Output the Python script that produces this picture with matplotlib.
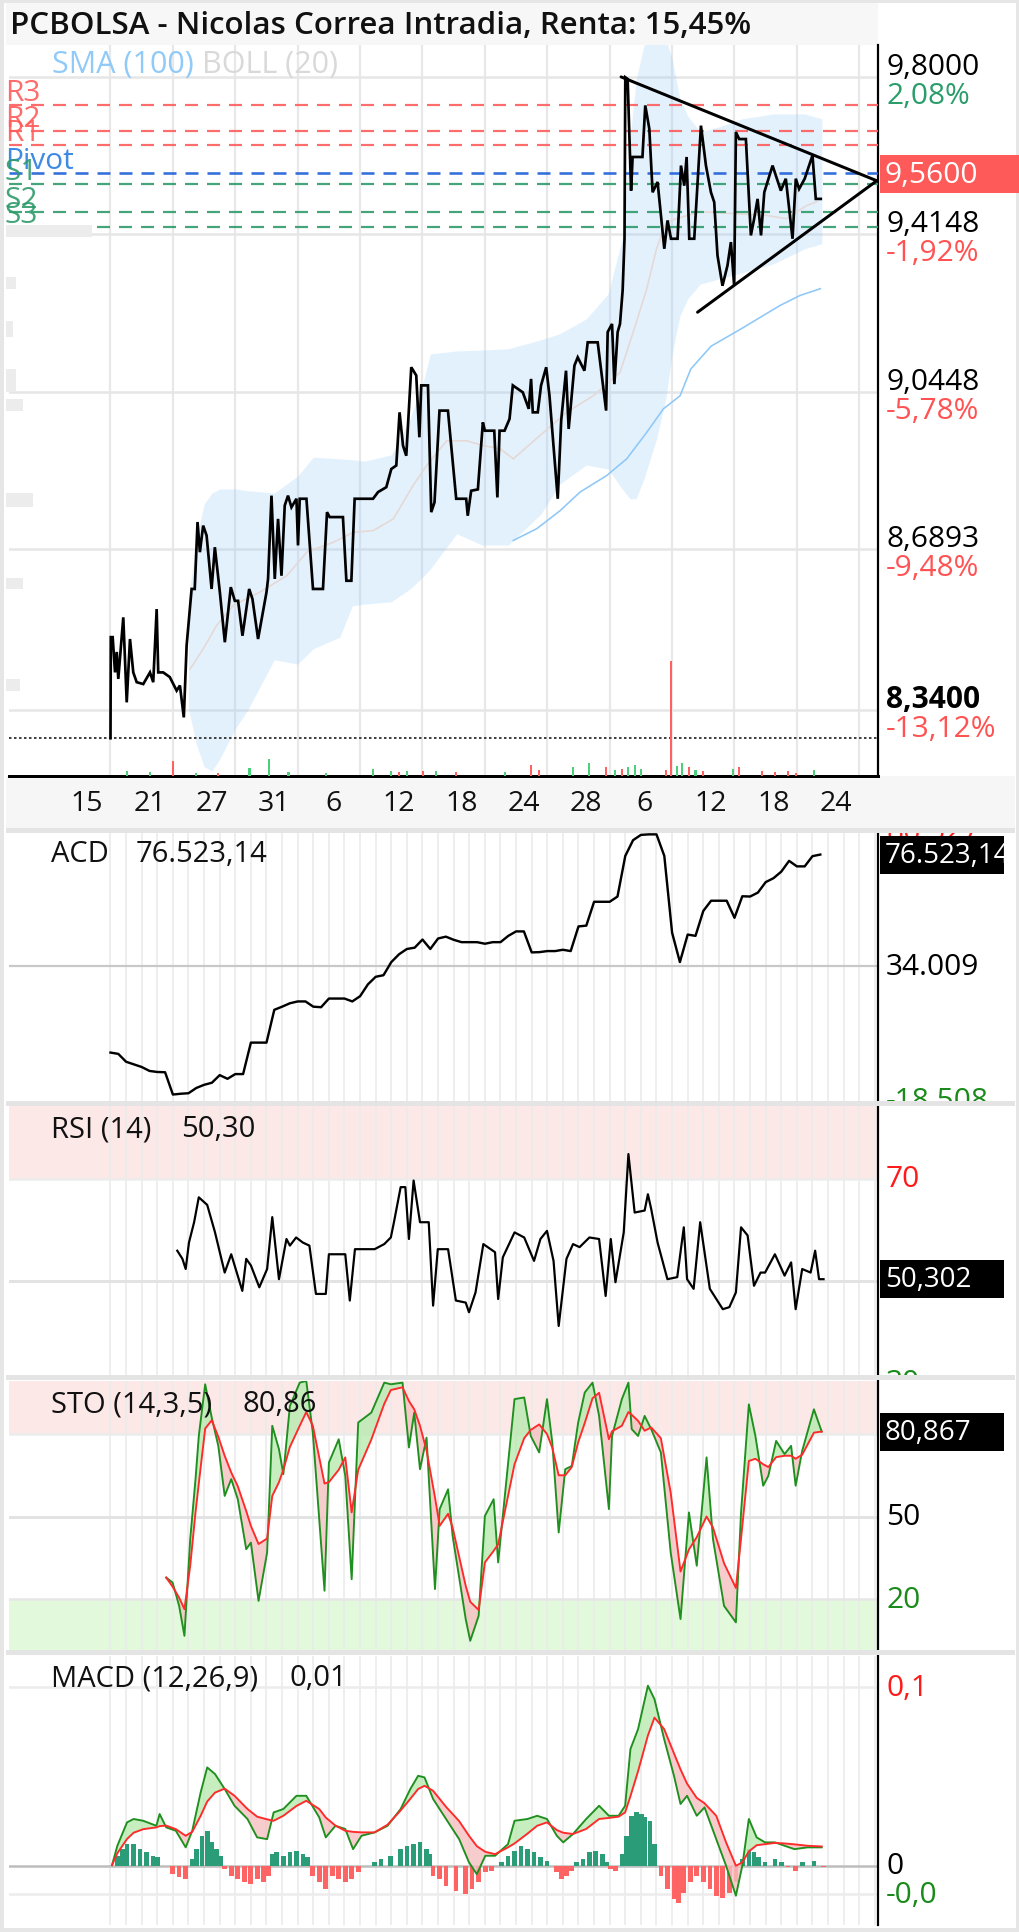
import numpy as np
import matplotlib
matplotlib.use("Agg")
import matplotlib.pyplot as plt
from matplotlib.patches import Rectangle
from matplotlib.transforms import Affine2D, Bbox, TransformedBbox
from matplotlib.ticker import NullLocator

plt.rcParams['font.family'] = ['Open Sans', 'DejaVu Sans']
plt.rcParams['lines.scale_dashes'] = False
plt.rcParams['axes.unicode_minus'] = False

# ------------------------------------------------------------------ data
title = "PCBOLSA - Nicolas Correa Intradia, Renta: 15,45%"
date_labels = ["15", "21", "27", "31", "6", "12", "18", "24", "28", "6", "12", "18", "24"]
date_tick_days = [-1.5, 2.5, 6.5, 10.5, 14.3, 18.5, 22.5, 26.5, 30.5, 34.2, 38.5, 42.5, 46.5]

price_ticks = [9.80, 9.4148, 9.0448, 8.6893, 8.34]
price_tick_labels = ["9,8000", "9,4148", "9,0448", "8,6893", "8,3400"]
pct_labels = ["2,08%", "-1,92%", "-5,78%", "-9,48%", "-13,12%"]
last_price = 9.56
last_price_label = "9,5600"
base_price = 8.28

pivot_names = ["R3", "R2", "R1", "Pivot", "S1", "S2", "S3"]
pivot_levels = [9.729, 9.667, 9.632, 9.563, 9.535, 9.468, 9.433]

price_days = [0.0, 0.02, 0.14, 0.29, 0.40, 0.50, 0.82, 1.04, 1.25, 1.46,
              1.68, 2.10, 2.53, 2.74, 2.96, 3.06, 3.38, 3.80, 4.24, 4.45,
              4.70, 4.88, 5.20, 5.40, 5.58, 5.73, 5.94, 6.16, 6.48, 6.69,
              7.01, 7.33, 7.71, 7.97, 8.18, 8.46, 8.89, 9.10, 9.46, 10.0,
              10.1, 10.32, 10.53, 10.74, 10.96, 11.17, 11.38, 11.6, 11.92, 12.02,
              12.13, 12.56, 12.98, 13.62, 13.88, 14.05, 14.9, 15.12, 15.44, 15.65,
              16.83, 17.15, 17.68, 18.0, 18.32, 18.53, 18.75, 18.96, 19.28, 19.6,
              19.8, 19.92, 20.35, 20.56, 20.77, 21.09, 21.63, 22.16, 22.8, 22.9,
              23.12, 23.55, 23.87, 24.0, 24.6, 24.8, 24.94, 25.26, 25.58, 25.79,
              26.43, 26.81, 26.96, 27.07, 27.39, 27.6, 27.93, 28.14, 28.67, 28.89,
              29.2, 29.37, 29.74, 29.95, 30.38, 30.59, 31.23, 31.77, 31.87, 32.15,
              32.3, 32.51, 32.66, 32.83, 32.95, 33.0, 33.15, 33.37, 33.47, 34.1,
              34.28, 34.54, 34.75, 35.07, 35.5, 35.71, 35.93, 36.35, 36.57, 36.78,
              36.93, 37.1, 37.42, 37.85, 38.17, 38.49, 38.7, 38.91, 39.23, 39.55,
              39.77, 39.98, 40.09, 40.3, 40.73, 41.05, 41.26, 41.48, 41.7, 41.91,
              42.44, 42.97, 43.29, 43.72, 43.93, 44.14, 44.5, 45.0, 45.21, 45.53]
price = [8.28, 8.496, 8.496, 8.420, 8.464, 8.406, 8.539, 8.356, 8.492, 8.420,
         8.399, 8.395, 8.420, 8.399, 8.557, 8.420, 8.420, 8.410, 8.381, 8.392,
         8.324, 8.478, 8.601, 8.601, 8.749, 8.682, 8.741, 8.719, 8.601, 8.693,
         8.594, 8.485, 8.605, 8.575, 8.575, 8.499, 8.601, 8.579, 8.492, 8.594,
         8.623, 8.808, 8.623, 8.756, 8.630, 8.786, 8.808, 8.782, 8.801, 8.697,
         8.801, 8.801, 8.601, 8.601, 8.771, 8.760, 8.760, 8.619, 8.619, 8.801,
         8.801, 8.816, 8.827, 8.868, 8.876, 8.997, 8.921, 8.898, 9.101, 9.082,
         8.940, 9.059, 9.059, 8.771, 8.793, 9.001, 9.001, 8.801, 8.801, 8.763,
         8.819, 8.822, 8.974, 8.955, 8.955, 8.804, 8.955, 8.955, 8.982, 9.059,
         9.043, 9.005, 9.074, 8.997, 8.997, 9.059, 9.101, 9.035, 8.801, 8.978,
         9.093, 8.959, 9.105, 9.124, 9.093, 9.159, 9.159, 9.001, 9.183, 9.202,
         9.062, 9.183, 9.202, 9.281, 9.404, 9.799, 9.795, 9.520, 9.602, 9.602,
         9.729, 9.671, 9.516, 9.541, 9.380, 9.448, 9.404, 9.404, 9.581, 9.532,
         9.602, 9.404, 9.404, 9.679, 9.581, 9.516, 9.492, 9.364, 9.292, 9.340,
         9.396, 9.292, 9.663, 9.646, 9.646, 9.412, 9.452, 9.500, 9.412, 9.516,
         9.581, 9.520, 9.549, 9.404, 9.549, 9.524, 9.549, 9.606, 9.500, 9.500]

band_days = [5.0, 5.5, 6.0, 6.5, 7.0, 8.0, 8.8, 10.5, 12.0, 13.0,
             14.7, 15.5, 16.3, 18.0, 19.2, 20.1, 20.5, 22.2, 23.8, 25.5,
             27.6, 28.8, 30.5, 31.9, 32.8, 33.3, 33.7, 34.2, 35.0, 35.6,
             36.0, 36.5, 37.0, 37.8, 39.0, 40.5, 42.5, 44.5, 45.6]
band_upper = [8.579, 8.711, 8.789, 8.814, 8.823, 8.823, 8.819, 8.814, 8.852, 8.895,
              8.891, 8.889, 8.886, 8.900, 8.982, 9.074, 9.132, 9.139, 9.141, 9.144,
              9.165, 9.179, 9.214, 9.273, 9.404, 9.646, 9.795, 9.880, 9.895, 9.895,
              9.845, 9.745, 9.703, 9.664, 9.676, 9.696, 9.708, 9.708, 9.696]
band_lower = [8.342, 8.268, 8.220, 8.211, 8.236, 8.300, 8.340, 8.447, 8.438, 8.471,
              8.496, 8.564, 8.568, 8.573, 8.601, 8.630, 8.645, 8.723, 8.698, 8.698,
              8.767, 8.834, 8.877, 8.868, 8.823, 8.801, 8.801, 8.846, 8.936, 9.028,
              9.132, 9.221, 9.261, 9.296, 9.308, 9.323, 9.344, 9.380, 9.392]

boll_mid_days = [5.1, 5.95, 6.8, 7.87, 9.58, 11.3, 12.58, 14.28, 15.56, 16.85,
                 18.13, 19.4, 20.27, 21.55, 22.83, 23.9, 24.97, 25.82, 27.53, 29.24,
                 30.95, 32.66, 33.51, 34.37, 35.0, 35.65, 37.79, 42.06, 43.35, 44.63, 45.27]
boll_mid = [8.427, 8.471, 8.521, 8.565, 8.594, 8.630, 8.682, 8.704, 8.726, 8.730,
            8.756, 8.831, 8.876, 8.932, 8.932, 8.921, 8.914, 8.891, 8.944, 8.997,
            9.035, 9.089, 9.183, 9.284, 9.380, 9.445, 9.469, 9.460, 9.452, 9.484, 9.493]

sma_days = [25.82, 27.32, 28.81, 30.1, 31.8, 33.09, 34.37, 35.44, 36.51, 37.2,
            38.5, 40.4, 42.9, 44.2, 45.5]
sma100 = [8.708, 8.734, 8.774, 8.816, 8.853, 8.891, 8.951, 9.005, 9.035, 9.097,
          9.150, 9.190, 9.245, 9.269, 9.285]

tri_upper_days = [32.73, 49.12]
tri_upper = [9.80, 9.544]
tri_lower_days = [37.63, 49.12]
tri_lower = [9.2295, 9.544]

vol_up_days = [1.06, 2.52, 5.45, 8.91, 10.16, 11.41, 13.8, 16.84, 17.96, 19.0, 20.89, 25.27,
               29.65, 30.7, 32.37, 33.2, 33.62, 34.03, 36.33, 36.66, 37.5, 39.88, 45.1]
vol_up = [4.6, 4, 3, 8, 17, 4, 3, 7, 5, 5, 5, 4, 9, 13, 6, 9, 11, 7, 10, 13, 6, 7, 6]
vol_dn_days = [3.99, 6.91, 18.47, 20.05, 22.14, 26.94, 27.48, 31.74, 32.78, 35.58, 35.91,
               37.08, 38.0, 40.3, 41.75, 42.6, 43.42, 43.92]
vol_dn = [15, 3, 4, 5, 4, 11, 6, 9, 7, 6, 115, 9, 5, 9, 5, 4, 5, 3]

# ACD (thousands) sampled every half day from day 0
acd_days = np.arange(0, 46, 0.5)
acd = [1.0, 0.5, -2.5, -3.5, -4.5, -6.0, -6.4, -6.5, -15.0, -14.7,
       -14.5, -12.5, -11.3, -10.5, -7.6, -9.0, -7.2, -7.2, 4.8, 4.8,
       4.8, 17.3, 18.5, 19.8, 20.5, 20.5, 18.5, 18.3, 21.6, 21.6,
       21.6, 20.5, 22.5, 27.0, 29.9, 30.5, 35.5, 38.5, 40.5, 41.0,
       44.1, 40.5, 44.5, 45.2, 44.0, 43.1, 43.1, 43.1, 42.5, 43.1,
       43.1, 45.5, 47.2, 47.2, 39.2, 39.3, 39.7, 39.7, 40.2, 39.7,
       49.1, 49.4, 58.5, 58.5, 58.5, 60.5, 76.0, 82.0, 84.0, 84.2,
       84.2, 76.0, 46.7, 35.5, 46.0, 45.5, 55.0, 58.9, 58.9, 58.9,
       52.4, 60.6, 60.5, 62.0, 66.0, 67.5, 70.0, 74.1, 72.0, 72.0,
       75.9, 76.5]
acd_mid = 34.009
acd_last = 76.523

rsi_days = [4.28, 4.61, 4.82, 5.03, 5.36, 5.66, 6.2, 6.7, 7.32, 7.74,
            8.45, 8.7, 9.0, 9.54, 10.04, 10.37, 10.8, 11.28, 11.5, 11.9,
            12.33, 12.75, 13.17, 13.8, 14.0, 15.05, 15.34, 15.67, 16.93, 17.55,
            17.97, 18.17, 18.6, 18.9, 19.13, 19.43, 19.84, 20.4, 20.68, 20.98,
            21.64, 22.14, 22.77, 22.98, 23.4, 23.9, 24.65, 24.85, 25.15, 25.9,
            26.52, 27.15, 27.56, 27.98, 28.4, 28.73, 29.23, 29.65, 30.07, 30.7,
            31.32, 31.74, 32.07, 32.37, 32.9, 33.2, 33.6, 34.24, 34.45, 34.66,
            35.07, 35.7, 36.33, 36.75, 36.96, 37.38, 37.8, 38.42, 39.25, 39.67,
            40.09, 40.42, 40.84, 41.25, 41.67, 41.96, 42.59, 43.21, 43.63, 43.92,
            44.34, 44.88, 45.17, 45.42, 45.71]
rsi = [55.9, 54.3, 52.3, 57.5, 61.5, 66.4, 64.9, 59.5, 51.6, 55.2,
       48.0, 54.3, 53.0, 48.7, 52.3, 62.5, 50.3, 58.2, 56.9, 58.5,
       57.5, 56.9, 47.4, 47.4, 55.2, 55.2, 46.1, 56.2, 56.2, 57.2,
       58.5, 61.5, 68.4, 68.4, 58.2, 69.7, 61.5, 61.5, 45.1, 56.2,
       56.2, 46.1, 45.7, 43.8, 47.7, 57.2, 55.6, 46.4, 54.6, 59.5,
       58.5, 53.9, 58.2, 59.8, 53.9, 41.1, 54.3, 57.2, 56.6, 58.5,
       58.2, 47.0, 58.2, 49.7, 59.5, 74.9, 63.4, 63.8, 67.0, 64.1,
       57.5, 50.3, 50.7, 60.5, 50.3, 48.4, 61.5, 48.4, 44.4, 44.8,
       47.7, 60.5, 58.9, 49.0, 51.6, 51.6, 55.2, 51.0, 53.6, 44.4,
       52.3, 51.6, 55.9, 50.3, 50.3]
rsi_last = 50.302

sto_days = [3.57, 3.98, 4.4, 4.74, 5.11, 5.45, 5.66, 6.07, 6.49, 6.91,
            7.32, 7.74, 8.16, 8.7, 9.0, 9.49, 10.04, 10.37, 10.8, 11.08,
            11.5, 12.13, 12.55, 12.97, 13.72, 14.0, 14.63, 15.05, 15.46, 15.88,
            16.72, 17.55, 17.97, 18.72, 19.13, 19.47, 19.84, 20.26, 20.8, 21.1,
            21.64, 21.93, 22.77, 23.06, 23.6, 24.0, 24.56, 24.85, 25.9, 26.52,
            26.94, 27.48, 27.98, 28.32, 28.73, 29.15, 29.57, 29.98, 30.4, 30.9,
            31.32, 31.95, 32.15, 32.78, 33.2, 33.41, 33.82, 34.24, 34.66, 35.28,
            35.91, 36.54, 37.08, 37.58, 38.21, 38.62, 39.33, 40.09, 40.42, 40.92,
            41.34, 41.84, 42.17, 42.67, 43.21, 43.63, 43.92, 44.34, 45.09, 45.59]
sto_k = [27.8, 26.0, 17.5, 6.6, 41.8, 63.6, 79.3, 98.1, 86.0, 75.7,
         57.5, 63.6, 56.3, 38.1, 40.5, 19.3, 36.9, 83.0, 74.5, 65.4,
         90.2, 98.7, 99.3, 80.5, 23.0, 69.6, 78.1, 64.8, 27.2, 84.2,
         87.8, 98.7, 98.1, 98.7, 75.1, 87.8, 67.2, 78.7, 23.6, 52.7,
         59.9, 43.0, 12.7, 4.8, 13.9, 50.2, 56.3, 33.3, 92.7, 93.3,
         79.3, 73.3, 92.7, 76.9, 44.2, 67.2, 68.4, 84.2, 95.1, 98.7,
         86.6, 52.7, 79.3, 92.7, 98.7, 81.8, 79.3, 86.6, 81.8, 73.3,
         36.9, 12.7, 51.5, 32.1, 71.5, 41.8, 17.5, 11.5, 51.5, 90.8,
         79.3, 61.2, 64.8, 77.5, 72.7, 75.7, 61.2, 73.9, 89.0, 80.9]
sto_d = [27.8, 24.5, 20.5, 16.3, 32.1, 51.5, 62.0, 82.0, 85.0, 79.0,
         72.1, 66.0, 61.0, 52.0, 46.6, 40.0, 42.0, 57.5, 62.5, 67.0,
         75.3, 83.0, 88.0, 83.0, 62.0, 62.5, 67.0, 71.5, 51.5, 67.0,
         78.0, 91.0, 96.0, 97.0, 92.0, 89.0, 83.0, 74.0, 57.0, 46.6,
         51.0, 46.0, 24.8, 19.0, 16.0, 33.3, 37.5, 39.9, 69.0, 78.5,
         81.5, 83.5, 80.0, 75.0, 65.0, 65.0, 68.0, 77.0, 84.0, 93.0,
         95.0, 78.1, 81.0, 83.0, 88.0, 87.0, 84.8, 81.2, 82.4, 78.5,
         58.7, 30.0, 38.0, 42.5, 50.0, 46.0, 33.0, 24.0, 42.0, 70.2,
         71.0, 69.0, 68.0, 71.6, 72.1, 72.1, 71.0, 72.5, 80.5, 80.9]
sto_last = 80.867

macd_days = [0.1, 0.44, 1.06, 1.48, 2.1, 2.94, 3.15, 3.57, 4.19, 4.82,
             5.24, 5.78, 6.2, 6.7, 7.32, 7.95, 8.78, 9.4, 10.04, 10.46,
             11.08, 11.92, 12.55, 13.38, 13.8, 14.42, 15.05, 15.55, 16.09, 16.93,
             17.76, 18.6, 19.22, 19.72, 20.13, 20.68, 21.51, 22.35, 22.98, 23.48,
             24.03, 24.65, 25.48, 25.9, 26.73, 27.35, 27.98, 28.61, 29.02, 29.65,
             30.49, 31.32, 31.95, 32.57, 32.99, 33.33, 33.82, 34.45, 34.87, 35.49,
             36.12, 36.54, 36.96, 37.58, 38.08, 38.83, 39.46, 40.09, 40.5, 40.92,
             41.42, 41.96, 42.59, 43.21, 43.84, 44.68, 45.59]
macd = [0.0004, 0.0112, 0.0243, 0.0262, 0.0252, 0.0224, 0.029, 0.0215, 0.0196, 0.0103,
        0.0196, 0.0411, 0.0551, 0.0514, 0.043, 0.0336, 0.0262, 0.0159, 0.0149, 0.0299,
        0.0318, 0.0392, 0.0392, 0.0271, 0.0159, 0.0224, 0.0206, 0.0093, 0.0168, 0.0187,
        0.0224, 0.0318, 0.043, 0.0504, 0.0495, 0.0374, 0.0262, 0.0149, 0.0019, -0.0047,
        0.0056, 0.0056, 0.0121, 0.0252, 0.0262, 0.028, 0.0262, 0.0168, 0.0131, 0.0178,
        0.0262, 0.0336, 0.028, 0.028, 0.0336, 0.0654, 0.0766, 0.1009, 0.0934, 0.071,
        0.0504, 0.0346, 0.0392, 0.028, 0.0327, 0.0149, 0.0, -0.0168, 0.0, 0.0262,
        0.0159, 0.0131, 0.0131, 0.0112, 0.0093, 0.0103, 0.0103]
macd_signal = [0.0004, 0.007, 0.015, 0.0185, 0.0205, 0.0215, 0.0222, 0.0225, 0.0205, 0.0168,
               0.019, 0.028, 0.036, 0.041, 0.0432, 0.0392, 0.0318, 0.0275, 0.026, 0.0252,
               0.028, 0.0335, 0.0364, 0.0318, 0.027, 0.0225, 0.0196, 0.019, 0.0187, 0.0187,
               0.023, 0.031, 0.0375, 0.043, 0.0448, 0.042, 0.033, 0.025, 0.0168, 0.011,
               0.0078, 0.0065, 0.0103, 0.0125, 0.018, 0.0224, 0.0243, 0.02, 0.0185, 0.0178,
               0.0206, 0.0262, 0.0268, 0.0275, 0.0299, 0.039, 0.053, 0.073, 0.083, 0.0766,
               0.063, 0.054, 0.046, 0.038, 0.035, 0.028, 0.0131, 0.0, 0.0019, 0.008,
               0.0115, 0.0121, 0.0128, 0.0125, 0.012, 0.0112, 0.0108]
hist_days = [0.44, 0.77, 1.06, 1.48, 1.9, 2.32, 2.73, 3.03, 3.98, 4.4,
             4.82, 5.24, 5.53, 5.86, 6.2, 6.49, 6.78, 7.03, 7.32, 7.74,
             8.16, 8.57, 8.99, 9.41, 9.82, 10.12, 10.37, 10.66, 11.08, 11.5,
             11.92, 12.33, 12.63, 12.96, 13.38, 13.8, 14.21, 14.63, 15.05, 15.46,
             15.88, 16.92, 17.34, 17.97, 18.59, 19.01, 19.43, 19.85, 20.26, 20.47,
             20.68, 21.1, 21.51, 22.14, 22.77, 23.18, 23.6, 24.02, 24.44, 25.06,
             25.48, 25.9, 26.31, 26.73, 27.15, 27.57, 27.98, 28.61, 28.9, 29.23,
             29.57, 29.86, 30.28, 30.7, 31.11, 31.53, 31.82, 32.07, 32.37, 32.78,
             33.07, 33.41, 33.74, 34.03, 34.24, 34.58, 34.87, 35.29, 35.7, 36.12,
             36.41, 36.75, 37.17, 37.58, 38.0, 38.42, 38.83, 39.25, 39.67, 40.09,
             40.5, 40.92, 41.26, 41.55, 41.96, 42.59, 43.0, 43.42, 43.92, 44.34,
             45.09, 45.71]
hist_vals = [0.0056, 0.0093, 0.0121, 0.0121, 0.0093, 0.0075, 0.0056, 0.0047, -0.0047, -0.0065,
             -0.0075, 0.0037, 0.0093, 0.0168, 0.0196, 0.0131, 0.0093, 0.0056, -0.0019, -0.0056,
             -0.0075, -0.0093, -0.0103, -0.0075, -0.0093, -0.0056, 0.0065, 0.0075, 0.0056, 0.0075,
             0.0084, 0.0065, 0.0047, -0.0056, -0.0093, -0.0131, -0.0056, -0.0075, -0.0093, -0.0075,
             -0.0037, 0.0019, 0.0037, 0.0056, 0.0093, 0.0112, 0.0121, 0.0131, 0.0093, 0.0065,
             -0.0056, -0.0075, -0.0112, -0.014, -0.0159, -0.0131, -0.0093, -0.0037, -0.0028, 0.0019,
             0.0056, 0.0084, 0.0112, 0.0093, 0.0075, 0.0047, 0.0028, -0.0037, -0.0075, -0.0056,
             -0.0028, 0.0019, 0.0037, 0.0075, 0.0084, 0.0065, 0.0019, -0.0019, -0.0028, 0.0065,
             0.0168, 0.028, 0.0299, 0.029, 0.0271, 0.0252, 0.0121, -0.0056, -0.0131, -0.0187,
             -0.0206, -0.015, -0.0093, -0.0056, -0.0093, -0.0131, -0.0168, -0.0178, -0.015, -0.0093,
             0.0037, 0.0093, 0.0075, 0.0047, 0.0019, 0.0037, 0.0019, -0.0009, -0.0028, 0.0019,
             0.0028, -0.0009]
macd_last_label = "0,01"

# ------------------------------------------------------------------ layout helpers
W, H, DPI = 1020, 1933, 100
fig = plt.figure(figsize=(W / DPI, H / DPI), dpi=DPI)
fig.patch.set_facecolor('white')
PX = Affine2D().scale(1.0 / W, -1.0 / H).translate(0, 1) + fig.transFigure


def pt(px):
    return px * 72.0 / DPI


def add_ax(x0, y0, x1, y1):
    return fig.add_axes([x0 / W, 1 - y1 / H, (x1 - x0) / W, (y1 - y0) / H])


def frect(x, y, w, h, color, z=-5, **kw):
    r = Rectangle((x, y), w, h, transform=PX, facecolor=color, edgecolor='none', zorder=z, **kw)
    fig.add_artist(r)
    return r


XL = (-6.506, 49.199)
LX0, LX1 = 9, 878
FS_R = 21.5       # right axis labels
FS_B = 20         # boxed values
FS_P = 21         # panel titles
TXT = '#111111'

# backgrounds
frect(0, 0, W, H, 'white', z=-10)
frect(6, 4, 872, 42, '#f7f7f7', z=-4)          # title bar
frect(6, 777, 1009, 52, '#f6f6f6', z=-4)       # date band
for ys in (829, 1101.7, 1376, 1650.7):
    frect(6, ys, 1009, 5, '#e4e4e4', z=3)
fig.add_artist(Rectangle((2, 2), W - 4, H - 4, transform=PX, facecolor='none',
                         edgecolor='#e6e6e6', lw=pt(4), zorder=4))
for (gx, gy, gw, gh) in [(6, 226, 86, 12), (6, 278, 10, 12), (6, 322, 7, 16), (6, 370, 10, 23),
                         (6, 400, 17, 12), (6, 494, 27, 14), (6, 579, 17, 11), (6, 680, 14, 12)]:
    frect(gx, gy, gw, gh, '#ececec', z=2)

fig.text(10, 26, title, transform=PX, fontsize=22.5, fontweight='semibold', va='center', ha='left',
         color=TXT)


def style_panel(a):
    a.set_facecolor('none')
    a.set_xlim(XL)
    for s in ('top', 'left', 'bottom'):
        a.spines[s].set_visible(False)
    a.spines['right'].set_color('black')
    a.spines['right'].set_linewidth(pt(2.2))
    a.set_yticks([])
    a.yaxis.set_minor_locator(NullLocator())
    a.set_xticks([])


def label_axes(y0, y1, ylim, log=False):
    la = add_ax(880, y0, 1015, y1)
    if log:
        la.set_yscale('log')
    la.set_ylim(ylim)
    la.set_xlim(0, 1)
    la.set_axis_off()
    return la


def rlabel(la, v, s, color='black', dy=0, va='center', weight='normal', size=FS_R):
    la.annotate(s, xy=(0, v), xycoords=la.get_yaxis_transform(), xytext=(6, dy),
                textcoords='offset pixels', ha='left', va=va, color=color, fontsize=size,
                fontweight=weight, annotation_clip=False, clip_on=True)


def value_box(a, v, s, color, x1=1004, h=38, size=FS_B):
    ydisp = a.transData.transform((0, v))[1]
    yc = H - ydisp
    frect(880, yc - h / 2, x1 - 880, h, color, z=6)
    t = fig.text(885, yc, s, transform=PX, color='white', fontsize=size, va='center', ha='left', zorder=7)
    t.set_clip_box(TransformedBbox(Bbox([[880 / W, 1 - (yc + h / 2) / H], [x1 / W, 1 - (yc - h / 2) / H]]),
                                   fig.transFigure))
    t.set_clip_on(True)


def day_grid(a):
    for d in range(0, 50):
        a.axvline(d, color='#ebebeb', lw=pt(1.6), zorder=0)


def panel_title(y, name, x_val, val):
    fig.text(51, y, name, transform=PX, fontsize=FS_P, va='center', ha='left', color=TXT)
    fig.text(x_val, y, val, transform=PX, fontsize=FS_P, va='center', ha='left', color=TXT)


# ------------------------------------------------------------------ main price panel
MY = (8.2006, 9.880)
ax = add_ax(LX0, 46, LX1, 777)
style_panel(ax)
ax.set_yscale('log')
ax.set_ylim(MY)
ax.yaxis.set_minor_locator(NullLocator())
ax.set_yticks([])
ax.spines['bottom'].set_visible(True)
ax.spines['bottom'].set_color('black')
ax.spines['bottom'].set_linewidth(pt(3))
for d in range(0, 49, 4):
    ax.axvline(d, color='#e8e8e8', lw=pt(2.2), zorder=0)
for p in price_ticks:
    ax.axhline(p, color='#e6e6e6', lw=pt(2.5), zorder=0)
ax.fill_between(band_days, band_lower, band_upper, color='#90caf9', alpha=0.25, lw=0, zorder=1)
ax.plot(boll_mid_days, boll_mid, color='#e5d8d5', lw=pt(1.6), zorder=2)
ax.plot(sma_days, sma100, color='#8ec8f8', lw=pt(1.6), zorder=2)
for name, lvl in zip(pivot_names, pivot_levels):
    if name.startswith('R'):
        c, tc = '#ff5c5c', '#ff5c5c'
    elif name.startswith('S'):
        c, tc = '#2e9b6b', '#2e9b6b'
    else:
        c, tc = '#1f5fd8', '#2a7ee0'
    ax.axhline(lvl, color=c, lw=pt(2.6 if name == 'Pivot' else 2.2), ls=(0, (pt(13), pt(9))),
               alpha=0.9, zorder=3)
    ax.annotate(name, xy=(0, lvl), xycoords=ax.get_yaxis_transform(), xytext=(-4, 5),
                textcoords='offset pixels', ha='left', va='baseline', color=tc, fontsize=21.5,
                alpha=0.9, zorder=4, annotation_clip=False)
ax.axhline(base_price, color='#444444', lw=pt(2), ls=(0, (pt(2.5), pt(2.5))), zorder=3)
ax.plot(price_days, price, color='black', lw=pt(2.7), zorder=5, solid_joinstyle='miter')
ax.plot(tri_upper_days, tri_upper, color='black', lw=pt(3), zorder=6, solid_capstyle='round')
ax.plot(tri_lower_days, tri_lower, color='black', lw=pt(3), zorder=6, solid_capstyle='round')
ax.set_xticks(date_tick_days)
ax.set_xticklabels(date_labels)
ax.tick_params(axis='x', length=0, pad=pt(13), labelsize=20.5, labelcolor=TXT)

fig.text(52, 65, "SMA (100)", transform=PX, color='#90caf9', fontsize=22, va='center', ha='left')
fig.text(202, 65, "BOLL (20)", transform=PX, color='#d9d9d9', fontsize=22, va='center', ha='left')

axv = add_ax(LX0, 46, LX1, 777)
axv.set_xlim(XL)
axv.set_ylim(0, 731)
axv.set_axis_off()
axv.bar(vol_up_days, vol_up, width=0.13, color='#4ccf7a', lw=0)
axv.bar(vol_dn_days, vol_dn, width=0.13, color='#ff6161', lw=0)

lab = label_axes(46, 777, MY, log=True)
for p, s, pc in zip(price_ticks, price_tick_labels, pct_labels):
    wgt = 'bold' if s == "8,3400" else 'normal'
    rlabel(lab, p, s, dy=3, va='baseline', weight=wgt)
    rlabel(lab, p, pc, color=('#2a9d6a' if not pc.startswith('-') else '#ff5252'), dy=-4, va='top')
value_box(lab, last_price, last_price_label, '#ff5a5a', x1=1020, size=FS_R)

# ------------------------------------------------------------------ ACD
AY = (-17.35, 85.22)
a1 = add_ax(LX0, 832.7, LX1, 1101.7)
style_panel(a1)
a1.set_ylim(AY)
day_grid(a1)
a1.axhline(acd_mid, color='#c8c8c8', lw=pt(2.2), zorder=1)
a1.plot(acd_days, acd, color='black', lw=pt(2.4), zorder=5)
panel_title(855, "ACD", 136, "76.523,14")
l1 = label_axes(832.7, 1101.7, AY)
rlabel(l1, acd_mid, "34.009")
rlabel(l1, 85.22, "86.527", color='#ff2020')
rlabel(l1, -17.35, "-18.508", color='#1a8a1a')
value_box(l1, acd_last, "76.523,145", 'black')

# ------------------------------------------------------------------ RSI
RY = (31.46, 84.41)
a2 = add_ax(LX0, 1106.7, LX1, 1376)
style_panel(a2)
a2.set_ylim(RY)
a2.axhspan(70, RY[1], color='#fde8e8', lw=0, zorder=0)
day_grid(a2)
a2.axhline(70, color='#ececec', lw=pt(2.5), zorder=1)
a2.axhline(50, color='#e3e3e3', lw=pt(3), zorder=1)
a2.plot(rsi_days, rsi, color='black', lw=pt(2.2), zorder=5)
panel_title(1130, "RSI (14)", 181, "50,30")
l2 = label_axes(1106.7, 1376, RY)
rlabel(l2, 70, "70", color='#ff1a1a')
rlabel(l2, 30, "30", color='#1a8a1a')
value_box(l2, rsi_last, "50,302", 'black')

# ------------------------------------------------------------------ STO
SY = (1.56, 99.4)
a3 = add_ax(LX0, 1381.7, LX1, 1650.7)
style_panel(a3)
a3.set_ylim(SY)
a3.axhspan(80, SY[1], color='#fde8e8', lw=0, zorder=0)
a3.axhspan(SY[0], 20, color='#e2f9dc', lw=0, zorder=0)
day_grid(a3)
a3.axhline(50, color='#e3e3e3', lw=pt(3), zorder=1)
a3.axhline(80, color='#ececec', lw=pt(2.5), zorder=1)
a3.axhline(20, color='#e6e6e6', lw=pt(2.5), zorder=1)
k = np.array(sto_k)
dd = np.array(sto_d)
a3.fill_between(sto_days, k, dd, where=k >= dd, interpolate=True, color='#b8eab0', alpha=0.8, lw=0, zorder=2)
a3.fill_between(sto_days, k, dd, where=k < dd, interpolate=True, color='#f6c0c0', alpha=0.8, lw=0, zorder=2)
a3.plot(sto_days, sto_k, color='#1f8f1f', lw=pt(1.9), zorder=4)
a3.plot(sto_days, sto_d, color='#ff2a2a', lw=pt(1.9), zorder=5)
panel_title(1405, "STO (14,3,5)", 243, "80,86")
l3 = label_axes(1381.7, 1650.7, SY)
rlabel(l3, 50, "50")
rlabel(l3, 20, "20", color='#1a8a1a')
value_box(l3, sto_last, "80,867", 'black')

# ------------------------------------------------------------------ MACD
MCY = (-0.0332, 0.1177)
a4 = add_ax(LX0, 1656.7, LX1, 1926)
style_panel(a4)
a4.set_ylim(MCY)
day_grid(a4)
a4.axhline(0.1, color='#ececec', lw=pt(2.5), zorder=1)
a4.axhline(-0.0159, color='#ececec', lw=pt(2.5), zorder=1)
a4.axhline(0, color='#bdbdbd', lw=pt(2.5), zorder=1)
hv = np.array(hist_vals)
hd = np.array(hist_days)
a4.bar(hd[hv >= 0], hv[hv >= 0], width=0.3, color='#2a9d78', lw=0, zorder=2)
a4.bar(hd[hv < 0], hv[hv < 0], width=0.3, color='#ff6464', lw=0, zorder=2)
m = np.array(macd)
sg = np.array(macd_signal)
a4.fill_between(macd_days, m, sg, where=m >= sg, interpolate=True, color='#b8eab0', alpha=0.8, lw=0, zorder=3)
a4.fill_between(macd_days, m, sg, where=m < sg, interpolate=True, color='#f6c0c0', alpha=0.8, lw=0, zorder=3)
a4.plot(macd_days, macd, color='#1f8f1f', lw=pt(1.9), zorder=4)
a4.plot(macd_days, macd_signal, color='#ff2a2a', lw=pt(1.9), zorder=5)
panel_title(1679, "MACD (12,26,9)", 290, macd_last_label)
l4 = label_axes(1656.7, 1926, MCY)
rlabel(l4, 0.1, "0,1", color='#ff1a1a')
rlabel(l4, 0, "0")
rlabel(l4, -0.0159, "-0,0", color='#1a8a1a')

fig.savefig("out.png", dpi=DPI, facecolor='white')
